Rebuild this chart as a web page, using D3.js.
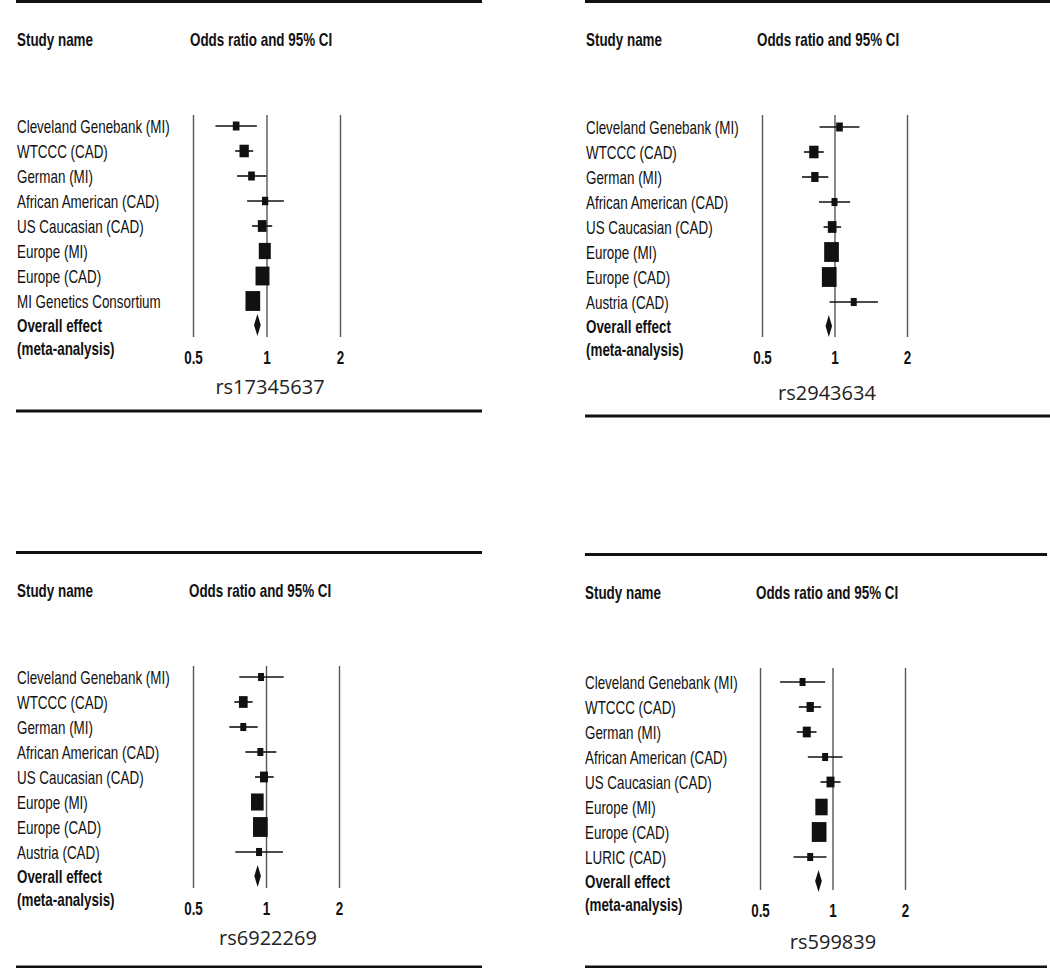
<!DOCTYPE html>
<html>
<head>
<meta charset="utf-8">
<script src="https://cdn.jsdelivr.net/npm/d3@7"></script>
<style>
  body { margin: 0; background: #fff; }
  svg { display: block; }
</style>
</head>
<body>
<div id="chart"></div>
<script>
// --- data ---
const snps = ["rs17345637", "rs2943634", "rs6922269", "rs599839"];
const ticks = [0.5, 1, 2];

const names1 = ["Cleveland Genebank (MI)", "WTCCC (CAD)", "German (MI)", "African American (CAD)",
  "US Caucasian (CAD)", "Europe (MI)", "Europe (CAD)", "MI Genetics Consortium"];
const or1 = [0.751, 0.810, 0.868, 0.987, 0.960, 0.984, 0.963, 0.879];
const lo1 = [0.618, 0.744, 0.758, 0.833, 0.873, 0.940, 0.920, 0.840];
const hi1 = [0.913, 0.882, 1.000, 1.178, 1.055, 1.030, 1.010, 0.920];
const wt1 = [4.1, 8, 4.1, 3.6, 7, 13.3, 18, 20];
const pooled1 = [0.918, 0.889, 0.947];

const names2 = ["Cleveland Genebank (MI)", "WTCCC (CAD)", "German (MI)", "African American (CAD)",
  "US Caucasian (CAD)", "Europe (MI)", "Europe (CAD)", "Austria (CAD)"];
const or2 = [1.049, 0.821, 0.829, 1.000, 0.978, 0.972, 0.951, 1.202];
const lo2 = [0.867, 0.747, 0.733, 0.862, 0.901, 0.930, 0.910, 0.954];
const hi2 = [1.269, 0.903, 0.942, 1.161, 1.065, 1.020, 0.990, 1.515];
const wt2 = [4.1, 8, 5, 3.3, 7, 20, 20, 3.3];
const pooled2 = [0.947, 0.918, 0.977];

const names3 = ["Cleveland Genebank (MI)", "WTCCC (CAD)", "German (MI)", "African American (CAD)",
  "US Caucasian (CAD)", "Europe (MI)", "Europe (CAD)", "Austria (CAD)"];
const or3 = [0.954, 0.806, 0.806, 0.948, 0.981, 0.921, 0.948, 0.936];
const lo3 = [0.776, 0.740, 0.706, 0.822, 0.901, 0.880, 0.910, 0.747];
const hi3 = [1.183, 0.881, 0.924, 1.103, 1.076, 0.960, 0.990, 1.175];
const wt3 = [3.3, 7, 3.3, 3.3, 5.9, 14.8, 20, 3.3];
const pooled3 = [0.924, 0.895, 0.953];

const names4 = ["Cleveland Genebank (MI)", "WTCCC (CAD)", "German (MI)", "African American (CAD)",
  "US Caucasian (CAD)", "Europe (MI)", "Europe (CAD)", "LURIC (CAD)"];
const or4 = [0.751, 0.808, 0.782, 0.932, 0.981, 0.900, 0.880, 0.808];
const lo4 = [0.606, 0.725, 0.711, 0.790, 0.892, 0.860, 0.840, 0.689];
const hi4 = [0.932, 0.897, 0.858, 1.100, 1.080, 0.940, 0.920, 0.944];
const wt4 = [3.3, 5, 5.9, 3.3, 5.9, 14, 20, 3.3];
const pooled4 = [0.875, 0.847, 0.903];

const width = 1050;
const height = 968;
const sx = 0.745; // the figure is squeezed horizontally
const font = "'Liberation Sans', Arial, sans-serif";

const panels = [
  { names: names1, or: or1, lo: lo1, hi: hi1, wt: wt1, pooled: pooled1, snp: snps[0],
    ox: 0, oy: 0, r0: 193, r1: 340, rowTop: 126, labelX: 17, headX: 190, snpX: 270, snpY: 387, ruleL: 16, ruleR: 482, bottom: 411 },
  { names: names2, or: or2, lo: lo2, hi: hi2, wt: wt2, pooled: pooled2, snp: snps[1],
    ox: 570, oy: 0, r0: 192, r1: 337, rowTop: 127, labelX: 16, headX: 187, snpX: 257, snpY: 393, ruleL: 15, ruleR: 480, bottom: 416 },
  { names: names3, or: or3, lo: lo3, hi: hi3, wt: wt3, pooled: pooled3, snp: snps[2],
    ox: 0, oy: 551, r0: 193, r1: 339, rowTop: 126, labelX: 17, headX: 189, snpX: 268, snpY: 387, ruleL: 16, ruleR: 482, bottom: 416 },
  { names: names4, or: or4, lo: lo4, hi: hi4, wt: wt4, pooled: pooled4, snp: snps[3],
    ox: 570, oy: 553, r0: 190, r1: 335, rowTop: 129, labelX: 15, headX: 186, snpX: 263, snpY: 389, ruleL: 15, ruleR: 477, bottom: 414 },
];

const rowStep = 25;
const lineTop = 115;
const lineBottom = 337;

const svg = d3
  .select("#chart")
  .append("svg")
  .attr("width", width)
  .attr("height", height)
  .style("font-family", font);

svg.append("rect").attr("width", width).attr("height", height).attr("fill", "#fff");

const boxSize = d3.scaleSqrt().domain([0, 20]).range([0, 14.7]);

function label(g, x, y, str, bold) {
  return g
    .append("text")
    .attr("transform", `translate(${x},${y}) scale(${sx},1)`)
    .attr("font-size", 18)
    .attr("font-weight", bold ? "bold" : "normal")
    .attr("fill", "#111")
    .text(str);
}

panels.forEach((p) => {
  const g = svg.append("g").attr("transform", `translate(${p.ox},${p.oy})`);

  // rules
  g.append("line")
    .attr("x1", p.ruleL).attr("x2", p.ruleR)
    .attr("y1", 1.5).attr("y2", 1.5)
    .attr("stroke", "#111").attr("stroke-width", 3);
  g.append("line")
    .attr("x1", p.ruleL).attr("x2", p.ruleR)
    .attr("y1", p.bottom).attr("y2", p.bottom)
    .attr("stroke", "#111").attr("stroke-width", 3);

  label(g, p.labelX, 45.5, "Study name", true);
  label(g, p.headX, 45.5, "Odds ratio and 95% CI", true);

  const x = d3.scaleLog().base(2).domain([0.5, 2]).range([p.r0, p.r1]);

  const axis = d3
    .axisBottom(x)
    .tickValues(ticks)
    .tickFormat((d) => d)
    .tickSize(-(lineBottom - lineTop))
    .tickPadding(14);

  const ax = g
    .append("g")
    .attr("transform", `translate(0,${lineBottom})`)
    .call(axis);
  ax.select(".domain").remove();
  ax.selectAll(".tick line").attr("stroke", "#555").attr("stroke-width", 1.4);
  ax.selectAll(".tick text")
    .attr("font-size", 18)
    .attr("font-weight", "bold")
    .attr("font-family", font)
    .attr("fill", "#111")
    .attr("transform", `scale(${sx},1)`);

  const rows = p.names.map((n, i) => ({
    name: n, or: p.or[i], lo: p.lo[i], hi: p.hi[i], wt: p.wt[i],
    y: p.rowTop + i * rowStep,
  }));

  rows.forEach((d) => label(g, p.labelX, d.y + 6.5, d.name, false));

  g.selectAll(".ci")
    .data(rows)
    .enter()
    .append("line")
    .attr("class", "ci")
    .attr("x1", (d) => x(d.lo))
    .attr("x2", (d) => x(d.hi))
    .attr("y1", (d) => d.y)
    .attr("y2", (d) => d.y)
    .attr("stroke", "#111")
    .attr("stroke-width", 1.6);

  g.selectAll(".box")
    .data(rows)
    .enter()
    .append("rect")
    .attr("class", "box")
    .attr("x", (d) => x(d.or) - boxSize(d.wt) / 2)
    .attr("y", (d) => d.y - (boxSize(d.wt) * 1.35) / 2)
    .attr("width", (d) => boxSize(d.wt))
    .attr("height", (d) => boxSize(d.wt) * 1.35)
    .attr("fill", "#111");

  // pooled estimate
  const py = p.rowTop + 8 * rowStep - 1;
  const [po, pl, ph] = p.pooled;
  g.append("path")
    .attr("d", `M${x(pl)},${py} L${x(po)},${py - 11} L${x(ph)},${py} L${x(po)},${py + 11} Z`)
    .attr("fill", "#111");

  label(g, p.labelX, py + 6.5, "Overall effect", true);
  label(g, p.labelX, py + 29.5, "(meta-analysis)", true);

  g.append("text")
    .attr("x", p.snpX)
    .attr("y", p.snpY + 7)
    .attr("text-anchor", "middle")
    .attr("font-family", "'Open Sans', 'Noto Sans', sans-serif")
    .attr("font-size", 20)
    .attr("fill", "#222")
    .text(p.snp);
});
</script>
</body>
</html>
